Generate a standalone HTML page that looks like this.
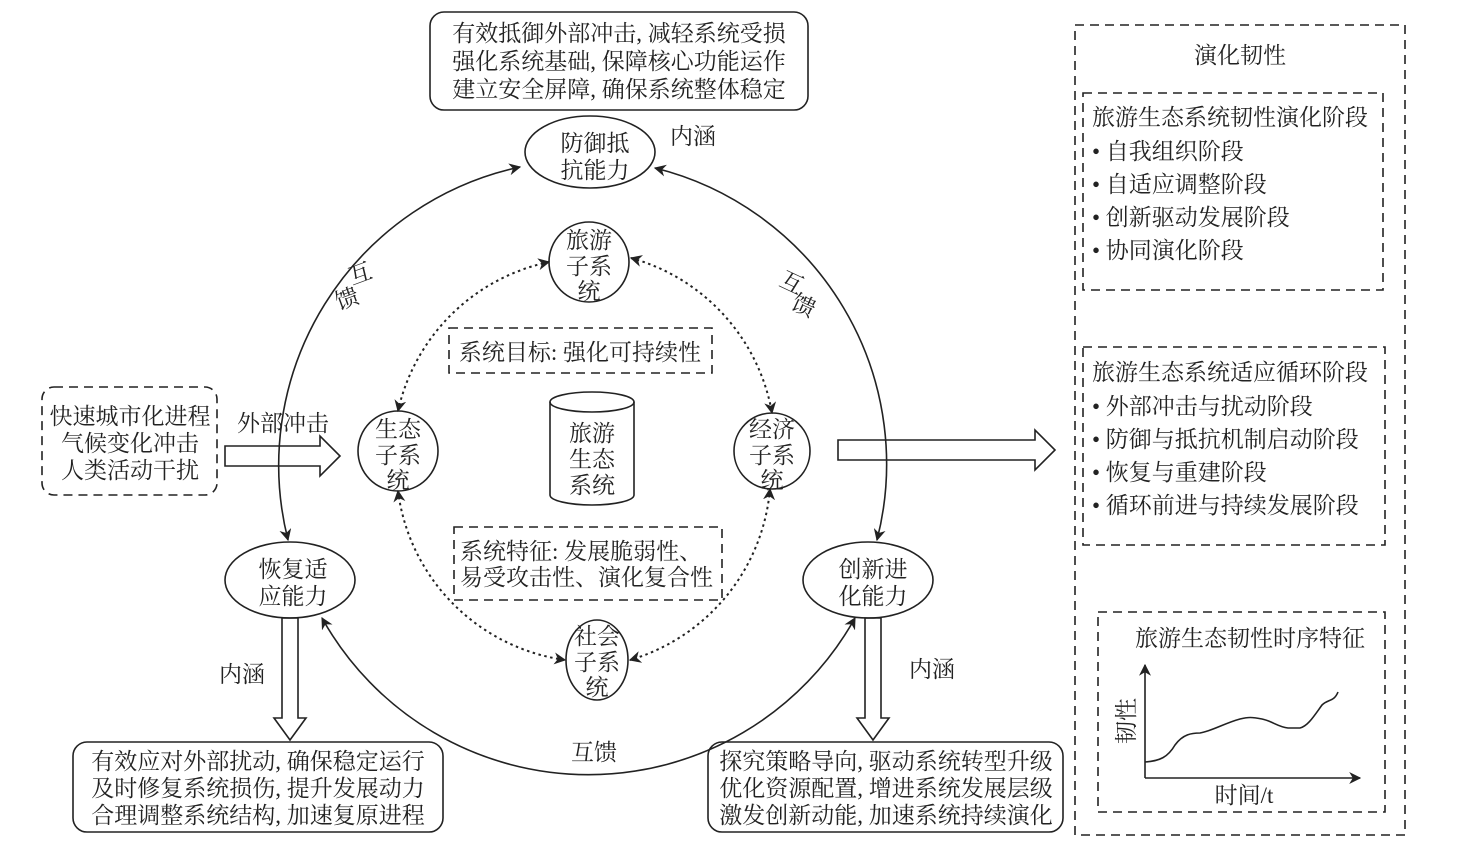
<!DOCTYPE html>
<html><head><meta charset="utf-8"><style>
body{margin:0;background:#fff;}
svg{display:block;}
text{font-family:"Liberation Serif","Noto Serif CJK SC","Noto Sans CJK SC",serif;font-size:23px;fill:#222;}
</style></head><body>
<svg width="1473" height="865" viewBox="0 0 1473 865" xmlns="http://www.w3.org/2000/svg">
<defs>
<marker id="a" viewBox="0 0 10 10" refX="9" refY="5" markerWidth="12" markerHeight="12" markerUnits="userSpaceOnUse" orient="auto-start-reverse"><path d="M0,0 L10,5 L0,10 L3,5 z" fill="#222"/></marker>
</defs>
<g fill="none" stroke="#222" stroke-width="1.6">
<rect x="430" y="12" width="378" height="98" rx="14"/>
<rect x="73" y="742" width="370" height="90" rx="14"/>
<rect x="708" y="742" width="355" height="90" rx="14"/>
<ellipse cx="590" cy="152" rx="65" ry="36"/>
<ellipse cx="290" cy="580" rx="65" ry="38"/>
<ellipse cx="868" cy="580" rx="65" ry="38"/>
<path d="M520,167 A305,305 0 0 0 288,540" marker-start="url(#a)" marker-end="url(#a)"/>
<path d="M655,168 A305,305 0 0 1 877,540" marker-start="url(#a)" marker-end="url(#a)"/>
<path d="M322,618 A305,305 0 0 0 855,618" marker-start="url(#a)" marker-end="url(#a)"/>
<circle cx="589" cy="262" r="40"/>
<circle cx="398" cy="451" r="40"/>
<circle cx="772" cy="451" r="38"/>
<ellipse cx="597" cy="660" rx="31" ry="40"/>
<g stroke-dasharray="2.5,3.5" stroke-width="2">
<path d="M549,262 A196,196 0 0 0 398,411" marker-start="url(#a)" marker-end="url(#a)"/>
<path d="M631,258 A196,196 0 0 1 772,413" marker-start="url(#a)" marker-end="url(#a)"/>
<path d="M398,491 A196,196 0 0 0 565,660" marker-start="url(#a)" marker-end="url(#a)"/>
<path d="M770,489 A196,196 0 0 1 630,660" marker-start="url(#a)" marker-end="url(#a)"/>
</g>
<path d="M550,402 L550,495 A42,10 0 0 0 634,495 L634,402"/>
<ellipse cx="592" cy="402" rx="42" ry="10"/>
<g stroke-dasharray="9,6">
<rect x="449" y="328" width="263" height="45"/>
<rect x="454" y="527" width="268" height="73"/>
<rect x="42" y="387" width="175" height="108" rx="12"/>
<rect x="1075" y="25" width="330" height="810"/>
<rect x="1083" y="93" width="300" height="197"/>
<rect x="1083" y="347" width="302" height="198"/>
<rect x="1098" y="612" width="287" height="200"/>
</g>
<path d="M225,446 L320,446 L320,436 L340,456 L320,476 L320,466 L225,466 z"/>
<path d="M838,440 L1035,440 L1035,430 L1055,450 L1035,470 L1035,460 L838,460 z"/>
<path d="M282,618 L298,618 L298,718 L306,718 L290,740 L274,718 L282,718 z"/>
<path d="M865,618 L881,618 L881,718 L889,718 L873,740 L857,718 L865,718 z"/>
<path d="M1145,778 L1145,665" marker-end="url(#a)"/>
<path d="M1145,778 L1360,778" marker-end="url(#a)"/>
<path d="M1145,762 C1160,761 1168,757 1175,745 C1183,734 1192,733 1200,733 C1212,731 1225,723 1240,719 C1248,717 1252,717 1262,719 C1272,721 1278,727 1288,728 L1300,728 C1308,726 1314,716 1322,705 C1328,699 1334,702 1338,692"/>
</g>
<g text-anchor="middle">
<text x="619" y="41">有效抵御外部冲击, 减轻系统受损</text>
<text x="619" y="69">强化系统基础, 保障核心功能运作</text>
<text x="619" y="97">建立安全屏障, 确保系统整体稳定</text>
<text x="595" y="151">防御抵</text>
<text x="595" y="178">抗能力</text>
<text x="693" y="144">内涵</text>
<text x="589" y="248">旅游</text>
<text x="589" y="274">子系</text>
<text x="589" y="299">统</text>
<text x="398" y="437">生态</text>
<text x="398" y="463">子系</text>
<text x="398" y="488">统</text>
<text x="772" y="437">经济</text>
<text x="772" y="463">子系</text>
<text x="772" y="488">统</text>
<text x="597" y="644">社会</text>
<text x="597" y="670">子系</text>
<text x="597" y="695">统</text>
<text x="592" y="441">旅游</text>
<text x="592" y="467">生态</text>
<text x="592" y="493">系统</text>
<text x="580" y="360">系统目标: 强化可持续性</text>
<text x="130" y="424">快速城市化进程</text>
<text x="130" y="451">气候变化冲击</text>
<text x="130" y="478">人类活动干扰</text>
<text x="283" y="431">外部冲击</text>
<text x="293" y="577">恢复适</text>
<text x="293" y="604">应能力</text>
<text x="873" y="577">创新进</text>
<text x="873" y="604">化能力</text>
<text x="242" y="682">内涵</text>
<text x="932" y="677">内涵</text>
<text x="594" y="760">互馈</text>
<text x="258" y="769">有效应对外部扰动, 确保稳定运行</text>
<text x="258" y="796">及时修复系统损伤, 提升发展动力</text>
<text x="258" y="823">合理调整系统结构, 加速复原进程</text>
<text x="886" y="769">探究策略导向, 驱动系统转型升级</text>
<text x="886" y="796">优化资源配置, 增进系统发展层级</text>
<text x="886" y="823">激发创新动能, 加速系统持续演化</text>
<text x="1240" y="63">演化韧性</text>
<text x="1244" y="803">时间/t</text>
</g>
<text x="460" y="559">系统特征: 发展脆弱性、</text>
<text x="460" y="585">易受攻击性、演化复合性</text>
<text transform="translate(352,285) rotate(-20)">互</text>
<text transform="translate(339,310) rotate(-20)">馈</text>
<text transform="translate(778,285) rotate(25)">互</text>
<text transform="translate(790,308) rotate(25)">馈</text>
<text x="1092" y="125">旅游生态系统韧性演化阶段</text>
<text x="1092" y="159">• 自我组织阶段</text>
<text x="1092" y="192">• 自适应调整阶段</text>
<text x="1092" y="225">• 创新驱动发展阶段</text>
<text x="1092" y="258">• 协同演化阶段</text>
<text x="1092" y="380">旅游生态系统适应循环阶段</text>
<text x="1092" y="414">• 外部冲击与扰动阶段</text>
<text x="1092" y="447">• 防御与抵抗机制启动阶段</text>
<text x="1092" y="480">• 恢复与重建阶段</text>
<text x="1092" y="513">• 循环前进与持续发展阶段</text>
<text x="1135" y="646">旅游生态韧性时序特征</text>
<text transform="translate(1134,744) rotate(-90)">韧性</text>
</svg>
</body></html>
